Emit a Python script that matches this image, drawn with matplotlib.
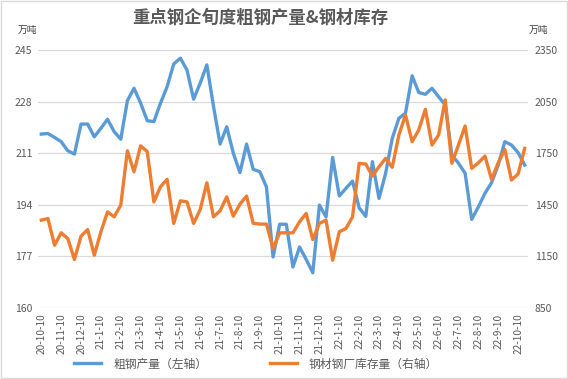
import matplotlib
matplotlib.use("Agg")
import matplotlib.pyplot as plt
from matplotlib.patches import Rectangle

plt.rcParams['font.family'] = ['Noto Sans CJK SC', 'DejaVu Sans']

# 旬度数据: 20-10-10 ... 22-10-20, 74 points
crude_steel = [
    217.3, 217.5, 216.2, 214.8, 211.8, 210.7, 220.6, 220.6, 216.4, 219.2,
    222.2, 218.1, 215.6, 228.3, 232.4, 227.5, 221.7, 221.4, 227.5, 232.9,
    240.4, 242.3, 238.4, 228.8, 234.1, 240.1, 226.5, 214.0, 219.7, 211.0,
    204.6, 214.0, 205.7, 204.9, 199.9, 176.8, 187.6, 187.6, 173.5, 180.1,
    176.0, 171.6, 193.9, 190.0, 209.6, 196.9, 199.4, 201.8, 193.0, 190.2,
    208.2, 196.1, 204.4, 215.9, 222.5, 224.2, 236.5, 231.0, 230.4, 232.4,
    229.6, 226.9, 210.4, 207.7, 204.4, 189.2, 193.3, 197.8, 201.3, 207.1,
    214.8, 213.7, 211.2, 207.1,
]
steel_stock = [
    1361, 1370, 1215, 1287, 1254, 1132, 1268, 1306, 1157, 1293,
    1409, 1380, 1448, 1764, 1642, 1793, 1759, 1467, 1555, 1598,
    1342, 1473, 1467, 1342, 1423, 1578, 1380, 1415, 1496, 1384,
    1454, 1501, 1342, 1338, 1338, 1196, 1287, 1287, 1287, 1351,
    1400, 1248, 1342, 1361, 1128, 1293, 1312, 1380, 1691, 1687,
    1617, 1671, 1720, 1668, 1856, 1972, 1817, 1885, 2005, 1798,
    1856, 2060, 1691, 1798, 1908, 1662, 1694, 1733, 1598, 1694,
    1772, 1594, 1629, 1778,
]
tick_labels = [
    "20-10-10", "20-11-10", "20-12-10", "21-1-10", "21-2-10", "21-3-10",
    "21-4-10", "21-5-10", "21-6-10", "21-7-10", "21-8-10", "21-9-10",
    "21-10-10", "21-11-10", "21-12-10", "22-1-10", "22-2-10", "22-3-10",
    "22-4-10", "22-5-10", "22-6-10", "22-7-10", "22-8-10", "22-9-10",
    "22-10-10",
]
left_ticks = [160, 177, 194, 211, 228, 245]
right_ticks = [850, 1150, 1450, 1750, 2050, 2350]

gray = '#595959'
blue = '#5B9BD5'
orange = '#ED7D31'

fig = plt.figure(figsize=(5.68, 3.79), dpi=100)
ax = fig.add_axes([38 / 568, 1 - 308 / 379, 490 / 568, 258 / 379])
ax2 = ax.twinx()

x = list(range(len(crude_steel)))
l1, = ax.plot(x, crude_steel, color=blue, lw=2.4, solid_joinstyle='round')
l2, = ax2.plot(x, steel_stock, color=orange, lw=2.4, solid_joinstyle='round')

ax.set_xlim(-0.5, len(x) - 0.5)
ax.set_ylim(160, 245)
ax.set_yticks(left_ticks)
ax2.set_ylim(850, 2350)
ax2.set_yticks(right_ticks)
ax.set_xticks(x[::3])
ax.set_xticklabels(tick_labels, rotation=90)

ax.grid(axis='y', color='#D9D9D9', lw=0.9)
ax.set_axisbelow(True)
for a in (ax, ax2):
    for s in a.spines.values():
        s.set_visible(False)
    a.tick_params(length=0, colors=gray, labelsize=7.5)
ax.tick_params(axis='x', pad=4, labelsize=7.3)
ax.tick_params(axis='y', pad=4)
ax2.tick_params(axis='y', pad=5)

fig.text(260 / 568, 1 - 18 / 379, "重点钢企旬度粗钢产量&钢材库存", ha='center', va='center',
         fontsize=12.5, color=gray, fontweight='bold')
fig.text(27 / 568, 1 - 30 / 379, "万吨", ha='center', va='center', fontsize=7, color='#404040')
fig.text(538 / 568, 1 - 30 / 379, "万吨", ha='center', va='center', fontsize=7, color='#404040')

fig.legend([l1, l2], ["粗钢产量（左轴）", "钢材钢厂库存量（右轴）"], loc='center',
           bbox_to_anchor=(256 / 568, 1 - 364 / 379), ncol=2, frameon=False,
           fontsize=8.5, labelcolor=gray, handlelength=2.3, columnspacing=5.3,
           handletextpad=1.0)

fig.patches.append(Rectangle((0.002, 0.002), 0.996, 0.996, transform=fig.transFigure,
                             fill=False, edgecolor='#D9D9D9', lw=1))

fig.savefig('out.png', dpi=100)
plt.close(fig)
